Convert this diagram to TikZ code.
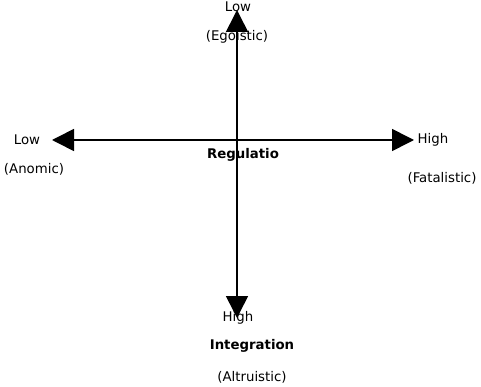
\documentclass[tikz,border=0pt]{standalone}
\usepackage{fontspec}
\setmainfont{DejaVu Sans}
\usetikzlibrary{arrows.meta}
\tikzset{
  axe/.style={line width=1.6pt, -{Triangle[length=22pt,width=22pt]}},
  lbl/.style={inner sep=0pt, font=\fontsize{13.3}{15}\selectfont},
  titre/.style={lbl, font=\fontsize{13.3}{15}\selectfont\bfseries}
}
\begin{document}
\begin{tikzpicture}[x=1pt, y=-1pt]
\useasboundingbox (0,0) rectangle (481,387) ;
% axes
\coordinate (O) at (237,140) ;
\coordinate (Nord) at (237,10) ;
\coordinate (Sud) at (237,318) ;
\coordinate (Ouest) at (52,140) ;
\coordinate (Est) at (414,140) ;
\draw[axe] (O) -- (Nord) ;
\draw[axe] (O) -- (Sud) ;
\draw[axe] (O) -- (Ouest) ;
\draw[axe] (O) -- (Est) ;
% labels
\node[lbl] (lowN) at (238,7) {Low} ;
\node[lbl] (ego) at (237,37) {(Egoistic)} ;
\node[lbl] (lowW) at (27,140) {Low} ;
\node[lbl] (ano) at (34,169) {(Anomic)} ;
\node[lbl] (highE) at (433,140) {High} ;
\node[lbl] (fata) at (442,178) {(Fatalistic)} ;
\node[titre] (regu) at (243,155) {Regulatio} ;
\node[lbl] (highS) at (238,318) {High} ;
\node[titre] (integ) at (252,346) {Integration} ;
\node[lbl] (altru) at (252,377) {(Altruistic)} ;
\end{tikzpicture}
\end{document}
